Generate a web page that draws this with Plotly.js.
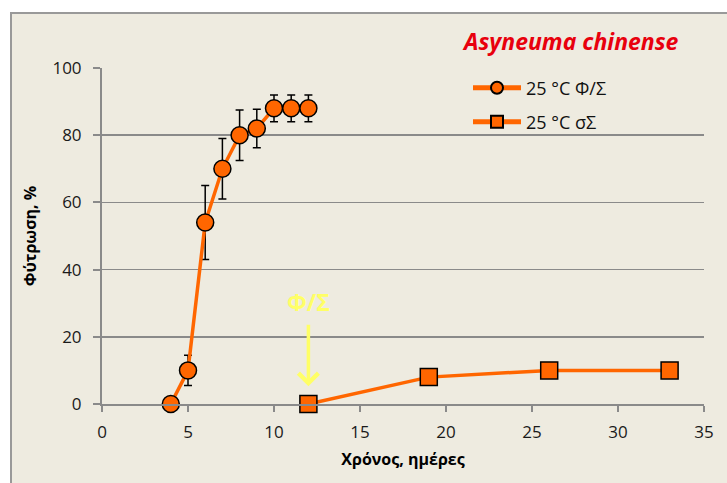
<!DOCTYPE html>
<html>
<head>
<meta charset="utf-8">
<script src="https://cdn.plot.ly/plotly-3.0.1.min.js"></script>
<style>
  html, body { margin: 0; padding: 0; background: #ffffff; }
  #chart { width: 727px; height: 483px; }
</style>
</head>
<body>
<div id="chart"></div>
<script>
// Series 1: 25 °C Φ/Σ (days, germination %, error)
const days1 = [4, 5, 6, 7, 8, 9, 10, 11, 12];
const germ1 = [0, 10, 54, 70, 80, 82, 88, 88, 88];
const err1  = [0, 4.5, 11, 9, 7.5, 5.7, 4, 4, 4];
// Series 2: 25 °C σΣ
const days2 = [12, 19, 26, 33];
const germ2 = [0, 8, 10, 10];
// Labels
const seriesNames = ['25 °C Φ/Σ', '25 °C σΣ'];
const chartTitle = 'Asyneuma chinense';
const xTitle = 'Χρόνος, ημέρες';
const yTitle = 'Φύτρωση, %';
const markLabel = 'Φ/Σ';
const markDay = 12;
const markY = 5.3;

const ORANGE = '#FF6600';
const FONT = 'Open Sans, sans-serif';

const L = 102, R = 23, T = 68, B = 79;
const W = 727, H = 483;
const pw = W - L - R, ph = H - T - B;
const px2x = p => (p - L) / pw;
const py2y = p => (H - B - p) / ph;

const traces = [
  {
    x: days1, y: germ1, name: seriesNames[0], type: 'scatter', mode: 'lines+markers',
    line: { color: ORANGE, width: 3.5 },
    marker: { symbol: 'circle', size: 17, color: ORANGE, line: { color: '#000', width: 1.5 } },
    error_y: { type: 'data', array: err1, visible: true, color: '#000', thickness: 1.5, width: 4 },
    legend: 'legend', cliponaxis: false
  },
  {
    x: days2, y: germ2, name: seriesNames[1], type: 'scatter', mode: 'lines+markers',
    line: { color: ORANGE, width: 3.5 },
    marker: { symbol: 'square', size: 17, color: ORANGE, line: { color: '#000', width: 1.5 } },
    legend: 'legend2', cliponaxis: false
  }
];

const legendCommon = {
  bgcolor: 'rgba(0,0,0,0)', borderwidth: 0,
  font: { family: FONT, size: 18, color: '#111111' },
  itemsizing: 'constant', itemwidth: 48,
  xanchor: 'left', yanchor: 'middle', x: px2x(468)
};

const layout = {
  width: W, height: H,
  margin: { l: L, r: R, t: T, b: B, pad: 0 },
  paper_bgcolor: '#ffffff',
  plot_bgcolor: '#D4CEB6',
  font: { family: FONT, size: 17, color: '#1a1a1a' },
  showlegend: true,
  legend: Object.assign({}, legendCommon, { y: py2y(88) }),
  legend2: Object.assign({}, legendCommon, { y: py2y(122) }),
  xaxis: {
    range: [0, 35], dtick: 5, tick0: 0, autorange: false,
    showgrid: false, zeroline: false,
    showline: true, linecolor: '#8a8a8a', linewidth: 2,
    ticks: 'outside', ticklen: 6, tickwidth: 2, tickcolor: '#8a8a8a',
    ticklabelstandoff: 6,
    tickfont: { family: FONT, size: 17, color: '#1a1a1a' },
    title: { text: xTitle, font: { family: FONT, size: 16, color: '#000', weight: 'bold' }, standoff: 11 }
  },
  yaxis: {
    range: [0, 100], dtick: 20, tick0: 0, autorange: false,
    showgrid: true, gridcolor: '#8a8a8a', gridwidth: 1.5,
    zeroline: false,
    showline: true, linecolor: '#8a8a8a', linewidth: 2,
    ticks: 'outside', ticklen: 7, tickwidth: 2, tickcolor: '#8a8a8a',
    ticklabelstandoff: 8,
    tickfont: { family: FONT, size: 17, color: '#1a1a1a' },
    title: { text: yTitle, font: { family: FONT, size: 16, color: '#000', weight: 'bold' }, standoff: 12 }
  },
  shapes: [
    {
      type: 'rect', xref: 'paper', yref: 'paper', layer: 'below',
      x0: px2x(11), x1: px2x(740), y0: py2y(500), y1: py2y(13),
      fillcolor: '#EEEBE0', line: { color: '#999999', width: 2 }
    }
  ],
  annotations: [
    {
      text: chartTitle, xref: 'paper', yref: 'paper', x: px2x(570), y: py2y(41),
      xanchor: 'center', yanchor: 'middle', showarrow: false,
      font: { family: FONT, size: 23, color: '#E8000D', weight: 'bold', style: 'italic' }
    },
    {
      text: '<b>' + markLabel + '</b>', xref: 'x', yref: 'y', x: markDay, y: markY,
      showarrow: true, ax: 0, ay: -84, arrowhead: 4, arrowsize: 1.1, arrowwidth: 3.5,
      arrowcolor: '#FFFF66', startstandoff: 5,
      font: { family: FONT, size: 23, color: '#FFFF66' }
    }
  ]
};

Plotly.newPlot('chart', traces, layout, { displayModeBar: false, staticPlot: true });
</script>
</body>
</html>
